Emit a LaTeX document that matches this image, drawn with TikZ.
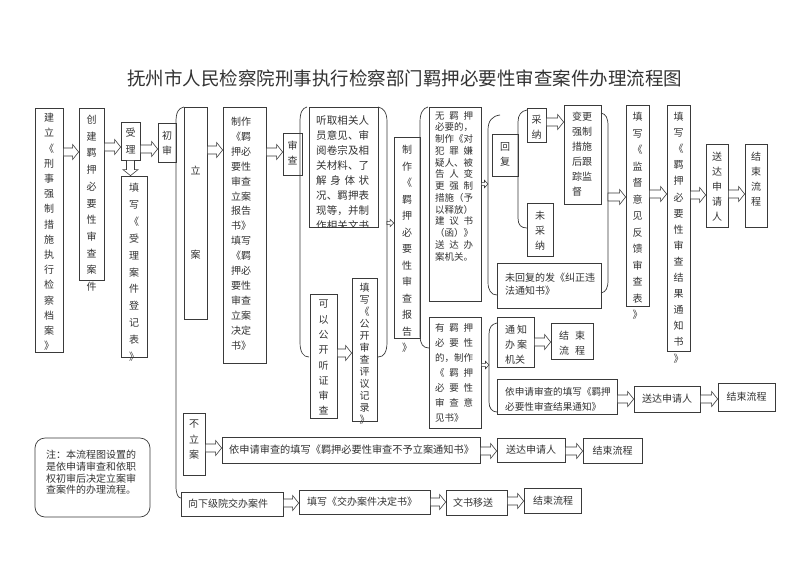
\documentclass[tikz,border=0pt]{standalone}
\usepackage{fontspec}
\setmainfont{Noto Sans CJK SC}
\usetikzlibrary{calc}
\definecolor{lc}{HTML}{3A3A3A}
\definecolor{tc}{HTML}{333333}
\ExplSyntaxOn
\NewDocumentCommand\vchars{m}{
  \tl_clear:N \l_tmpb_tl
  \bool_set_true:N \l_tmpa_bool
  \tl_map_inline:nn {#1} {
    \bool_if:NTF \l_tmpa_bool {\bool_set_false:N \l_tmpa_bool} {\tl_put_right:Nn \l_tmpb_tl {\\}}
    \tl_put_right:Nn \l_tmpb_tl {##1}
  }
  \tl_use:N \l_tmpb_tl
}
\NewDocumentCommand\jspread{mm}{
  \tl_clear:N \l_tmpb_tl
  \bool_set_true:N \l_tmpa_bool
  \tl_map_inline:nn {#2} {
    \bool_if:NTF \l_tmpa_bool {\bool_set_false:N \l_tmpa_bool} {\tl_put_right:Nn \l_tmpb_tl {\hfill}}
    \tl_put_right:Nn \l_tmpb_tl {##1}
  }
  \makebox[#1]{\tl_use:N \l_tmpb_tl}
}
\ExplSyntaxOff
\tikzset{
  box/.style={draw=lc, line width=0.7pt, inner sep=0pt, rectangle},
  txt/.style={inner sep=0pt, text=tc, font=\fontsize{10}{15}\selectfont},
  arr/.style={draw=lc, fill=white, line width=0.6pt, line join=miter},
  brace/.style={draw=lc, line width=0.7pt},
}
\newcommand\mybx[5]{\node[box,minimum width={#4-#2},minimum height={#5-#3}] (#1) at ({(#2+#4)/2},{(#3+#5)/2}) {};}
\newcommand\myvt[5]{\node[txt,align=center,anchor=north,font=\fontsize{10}{#1}\selectfont] (#2) at (#3,#4) {\vchars{#5}};}
\newcommand\mylt[6]{\node[txt,align=left,anchor=north west,font=\fontsize{#1}{#2}\selectfont] (#3) at (#4,#5) {#6};}
\newcommand\myharrow[5]{\draw[arr] let \p1=(#4), \p2=(#5) in (\x1,\y1+#1pt) -- (\x2-#3pt,\y1+#1pt) -- (\x2-#3pt,\y1+#2pt) -- (\x2,\y1) -- (\x2-#3pt,\y1-#2pt) -- (\x2-#3pt,\y1-#1pt) -- (\x1,\y1-#1pt) -- cycle;}
\newcommand\myba[2]{\myharrow{4}{7.5}{6}{#1}{#2}}
\newcommand\mysa[2]{\myharrow{1.6}{3.6}{3.5}{#1}{#2}}
\newcommand\myva[2]{\draw[arr] let \p1=(#1), \p2=(#2) in (\x1-4pt,\y1) -- (\x1-4pt,\y2+6pt) -- (\x1-7.5pt,\y2+6pt) -- (\x1,\y2) -- (\x1+7.5pt,\y2+6pt) -- (\x1+4pt,\y2+6pt) -- (\x1+4pt,\y1) -- cycle;}
\begin{document}
\begin{tikzpicture}[x=1pt,y=-1pt]
\useasboundingbox (0,0) rectangle (800,571);
\fill[white] (0,0) rectangle (800,571);
% title
\node[txt,font=\fontsize{18.5}{20}\selectfont] (title) at (404.5,78.5) {\jspread{515pt}{抚州市人民检察院刑事执行检察部门羁押必要性审查案件办理流程图}};
% boxes
\mybx{jl}{35}{108}{63}{352}
\mybx{cj}{79}{108}{104}{280}
\mybx{sl}{121}{122}{140}{160}
\mybx{tx1}{121}{176}{147}{357}
\mybx{cs}{158}{123}{176}{162}
\mybx{la}{184}{107}{207}{319}
\mybx{zz1}{223}{107}{266}{363}
\mybx{sc}{283}{133}{302}{175}
\mybx{tq}{309}{107}{378}{227}
\mybx{ky}{310}{294}{337}{418}
\mybx{tx2}{352}{278}{377}{421}
\mybx{zz2}{394}{137}{420}{338}
\mybx{wu}{429}{107}{481}{301}
\mybx{hf}{492}{134}{518}{176}
\mybx{cn}{527}{108}{546}{142}
\mybx{bg}{564}{105}{601}{204}
\mybx{wcn}{527}{203}{553}{256}
\mybx{whf}{497}{263}{601}{308}
\mybx{tx3}{626}{105}{649}{306}
\mybx{tx4}{667}{105}{690}{351}
\mybx{sd1}{706}{144}{728}{227}
\mybx{js1}{745}{144}{767}{227}
\mybx{you}{429}{317}{481}{428}
\mybx{tz}{497}{317}{534}{367}
\mybx{js2}{551}{323}{593}{359}
\mybx{ysq1}{497}{379}{617}{414}
\mybx{sd2}{634}{386}{700}{412}
\mybx{js3}{718}{383}{775}{411}
\mybx{bla}{183}{413}{205}{475}
\mybx{ysq2}{222}{437}{480}{463}
\mybx{sd3}{497}{438}{565}{462}
\mybx{js4}{583}{438}{642}{463}
\mybx{xx}{181}{492}{283}{516}
\mybx{tx5}{299}{490}{430}{514}
\mybx{ws}{446}{490}{507}{515}
\mybx{js5}{524}{488}{581}{513}
\node[box,rounded corners=10pt,minimum width=115,minimum height=79] (note) at (92.5,477.5) {};
% texts
\myvt{15.2}{jlt}{49}{113}{建立《刑事强制措施执行检察档案》}
\myvt{16.7}{cjt}{91.5}{115}{创建羁押必要性审查案件}
\myvt{17}{slt}{130.5}{128}{受理}
\myvt{16.9}{tx1t}{134}{183}{填写《受理案件登记表》}
\myvt{15}{cst}{167}{131}{初审}
\myvt{84}{lat}{195.5}{166}{立案}
\mylt{10}{14.9}{zz1t}{231}{117}{制作\\《羁\\押必\\要性\\审查\\立案\\报告\\书》\\填写\\《羁\\押必\\要性\\审查\\立案\\决定\\书》}
\myvt{15}{sct}{292.5}{141}{审查}
\begin{scope}
\clip (309,107) rectangle (378,227);
\mylt{10.5}{15}{tqt}{316}{115}{\jspread{53pt}{听取相关人}\\\jspread{53pt}{员意见、审}\\\jspread{53pt}{阅卷宗及相}\\\jspread{53pt}{关材料、了}\\\jspread{53pt}{解身体状}\\\jspread{53pt}{况、羁押表}\\\jspread{53pt}{现等，并制}\\\jspread{53pt}{作相关文书}}
\end{scope}
\myvt{15.3}{kyt}{323.5}{300}{可以公开听证审查}
\myvt{12}{tx2t}{364.5}{283}{填写《公开审查评议记录》}
\myvt{16.5}{zz2t}{407}{145}{制作《羁押必要性审查报告》}
\mylt{9.5}{11.75}{wut}{435}{111}{\jspread{38pt}{无羁押}\\必要的，\\制作《对\\\jspread{38pt}{犯罪嫌}\\疑人、被\\\jspread{38pt}{告人变}\\\jspread{38pt}{更强制}\\措施（予\\以释放）\\\jspread{38pt}{建议书}\\（函）》\\\jspread{38pt}{送达办}\\案机关。}
\myvt{15}{hft}{505}{142}{回复}
\myvt{15}{cnt}{536.5}{115}{采纳}
\mylt{10}{15}{bgt}{572}{112}{变更\\强制\\措施\\后跟\\踪监\\督}
\myvt{15}{wcnt}{540}{211}{未采纳}
\mylt{10}{13}{whft}{505}{273}{未回复的发《纠正违\\法通知书》}
\myvt{16.5}{tx3t}{637.5}{112}{填写《监督意见反馈审查表》}
\myvt{16.1}{tx4t}{678.5}{112}{填写《羁押必要性审查结果通知书》}
\myvt{15}{sd1t}{717}{152}{送达申请人}
\myvt{15}{js1t}{756}{152}{结束流程}
\mylt{9.5}{15}{yout}{435}{323}{\jspread{38pt}{有羁押}\\\jspread{38pt}{必要性}\\的，制作\\\jspread{38pt}{《羁押}\\\jspread{38pt}{必要性}\\\jspread{38pt}{审查意}\\见书》}
\mylt{10}{15}{tzt}{505}{325}{\jspread{22pt}{通知}\\\jspread{22pt}{办案}\\机关}
\mylt{10}{15}{js2t}{559}{331}{\jspread{26pt}{结束}\\\jspread{26pt}{流程}}
\mylt{9.6}{15}{ysq1t}{505}{387}{依申请审查的填写《羁押\\必要性审查结果通知》}
\node[txt] (sd2t) at (sd2) {送达申请人};
\node[txt] (js3t) at (js3) {结束流程};
\myvt{15.5}{blat}{194}{420}{不立案}
\node[txt,anchor=west,font=\fontsize{10.2}{12}\selectfont] (ysq2t) at (229,450) {依申请审查的填写《羁押必要性审查不予立案通知书》};
\node[txt] (sd3t) at (sd3) {送达申请人};
\node[txt] (js4t) at (js4) {结束流程};
\node[txt,anchor=west] (xxt) at (188,504) {向下级院交办案件};
\node[txt,anchor=west] (tx5t) at (307,502) {填写《交办案件决定书》};
\node[txt,anchor=west] (wst) at (453,502.5) {文书移送};
\node[txt,anchor=west] (js5t) at (533,500.5) {结束流程};
\mylt{10}{11.7}{notet}{46}{450}{注：本流程图设置的\\是依申请审查和依职\\权初审后决定立案审\\查案件的办理流程。}
% braces
\draw[brace] (184,107) .. controls (178,108) and (176,113) .. (176,122) -- (176,486) .. controls (176,494) and (178,498) .. (181,498);
\draw[brace] (307,107) .. controls (302,108) and (300,113) .. (300,122) -- (300,342) .. controls (300,352) and (303,357) .. (309,357);
\draw[brace] (378,107) .. controls (384,108) and (387,113) .. (387,122) -- (387,342) .. controls (387,352) and (384,357) .. (378,357);
\draw[brace] (428,107) .. controls (423,108) and (420,113) .. (420,122) -- (420,335) .. controls (420,344) and (423,348) .. (429,348);
\draw[brace] (500,115) .. controls (492,116) and (488,121) .. (488,130) -- (488,282) .. controls (488,290) and (491,295) .. (497,295);
\draw[brace] (527,110) .. controls (521,111) and (518,115) .. (518,122) -- (518,218) .. controls (518,225) and (521,228) .. (527,228);
\draw[brace] (601,113) .. controls (606,114) and (608,118) .. (608,126) -- (608,280) .. controls (608,288) and (606,292) .. (601,293);
\draw[brace] (497,323) .. controls (492,324) and (489,327) .. (489,334) -- (489,402) .. controls (489,408) and (492,412) .. (497,412);
\coordinate (c3) at (387,223);
\coordinate (c5) at (488,184);
\coordinate (c7) at (608,197);
\coordinate (c8) at (489,365);
% arrows
\myba{jl.east |- 0,152}{cj.west |- 0,152}
\myba{cj.east |- 0,147}{sl.west |- 0,147}
\myba{sl.east |- 0,149}{cs.west |- 0,149}
\myva{sl.south}{tx1.north}
\myba{la.east |- 0,150}{zz1.west |- 0,150}
\myba{zz1.east |- 0,152}{sc.west |- 0,152}
\myba{ky.east |- 0,353}{tx2.west |- 0,353}
\mysa{c3}{zz2.west |- c3}
\mysa{wu.east |- c5}{c5}
\myba{cn.east |- 0,122}{bg.west |- 0,122}
\myba{c7}{tx3.west |- c7}
\myba{tx3.east |- 0,194}{tx4.west |- 0,194}
\myba{tx4.east |- 0,195}{sd1.west |- 0,195}
\myba{sd1.east |- 0,194}{js1.west |- 0,194}
\mysa{you.east |- c8}{c8}
\myba{tz.east |- 0,342}{js2.west |- 0,342}
\myba{ysq1.east |- 0,399}{sd2.west |- 0,399}
\myba{sd2.east |- 0,399}{js3.west |- 0,399}
\myba{bla.east |- 0,448}{ysq2.west |- 0,448}
\myba{ysq2.east |- 0,451}{sd3.west |- 0,451}
\myba{sd3.east |- 0,451}{js4.west |- 0,451}
\myba{xx.east |- 0,503}{tx5.west |- 0,503}
\myba{tx5.east |- 0,502}{ws.west |- 0,502}
\myba{ws.east |- 0,501}{js5.west |- 0,501}
\end{tikzpicture}
\end{document}
